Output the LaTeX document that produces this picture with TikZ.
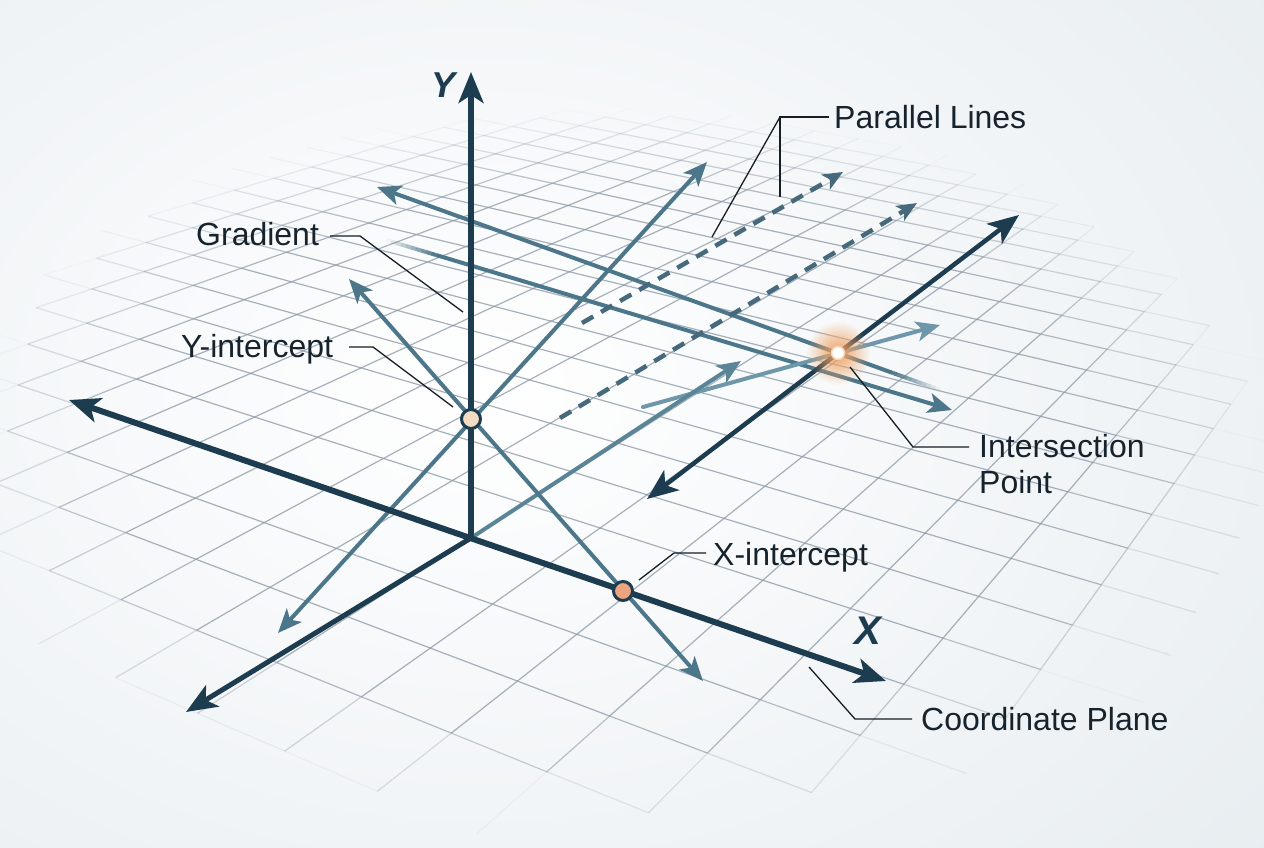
\documentclass[tikz,border=0pt]{standalone}
\usepackage{fontspec}
\setmainfont{Liberation Sans}
\usetikzlibrary{arrows.meta,fadings,calc}

\definecolor{bgout}{HTML}{E5EBEF}
\definecolor{axisdark}{HTML}{1E3C4F}
\definecolor{linemed}{HTML}{4C7689}
\definecolor{linemid}{HTML}{5A8597}
\definecolor{linelight}{HTML}{6E98AA}
\definecolor{dashcol}{HTML}{46697B}
\definecolor{gridcol}{HTML}{8A97A4}
\definecolor{txt}{HTML}{16232D}
\definecolor{leadcol}{HTML}{151E25}
\definecolor{ydot}{HTML}{F3DCC4}
\definecolor{xdot}{HTML}{EDA57F}
\definecolor{glowcol}{HTML}{F0A060}

\tikzfading[name=glowfade, inner color=transparent!0, outer color=transparent!100]

% perspective grid parameters
\def\Ox{471}\def\Oy{538}
\def\VAx{-2600}\def\VAy{-500}
\def\VBx{1700}\def\VBy{-250}
\def\ga{-0.0247}\def\gb{-0.0455}

\newcommand\gcalc[2]{%
  \pgfmathsetmacro\gw{1+(\ga)*(#1)+(\gb)*(#2)}%
  \pgfmathsetmacro\gx{(\Ox+(\ga)*(#1)*(\VAx)+(\gb)*(#2)*(\VBx))/\gw}%
  \pgfmathsetmacro\gy{(\Oy+(\ga)*(#1)*(\VAy)+(\gb)*(#2)*(\VBy))/\gw}%
}
\newcommand\gfade[4]{%
  \pgfmathsetmacro\gdx{((#1+#3)/2-610)/650}%
  \pgfmathsetmacro\gmy{(#2+#4)/2}%
  \pgfmathsetmacro\gdy{(\gmy-445)/(\gmy<445 ? 335 : 372)}%
  \pgfmathsetmacro\gop{0.75*min(1,max(0,2.2*(1-\gdx*\gdx-\gdy*\gdy)))}%
}

\tikzset{
  gridline/.style={draw=gridcol, line width=1.2pt},
  axisline/.style={draw=axisdark, line width=5.5pt},
  medline/.style={draw=linemed, line width=4pt},
  dashline/.style={draw=dashcol, line width=4.5pt, dash pattern=on 13pt off 9pt},
  bigend/.style={-{Stealth[length=31pt,width=25pt,inset=8pt]}},
  bigboth/.style={{Stealth[length=31pt,width=25pt,inset=8pt]}-{Stealth[length=31pt,width=25pt,inset=8pt]}},
  medend/.style={-{Stealth[length=24pt,width=20pt,inset=6pt]}},
  medboth/.style={{Stealth[length=24pt,width=20pt,inset=6pt]}-{Stealth[length=24pt,width=20pt,inset=6pt]}},
  smallend/.style={-{Stealth[length=20pt,width=17pt,inset=5pt]}},
  lbl/.style={font=\fontsize{32}{38}\selectfont, text=txt, inner sep=0pt, anchor=base west},
  axlbl/.style={text=axisdark, inner sep=0pt},
  leaderline/.style={draw=leadcol, line width=1.3pt},
  dotnode/.style={circle, draw=axisdark, line width=3pt, minimum size=19pt, inner sep=0pt},
}

\begin{document}
\begin{tikzpicture}[x=1pt,y=-1pt]
\useasboundingbox (0,0) rectangle (1264,848);
\begin{scope}
\clip (0,0) rectangle (1264,848);
\fill[bgout] (0,0) rectangle (1264,848);
\shade[inner color=white, outer color=bgout] (480,390) ellipse [x radius=1150pt, y radius=820pt];

% ---------- perspective grid: precompute points ----------
\foreach \u in {-24,...,10}{
  \foreach \v in {-30,...,7}{
    \gcalc{\u}{\v}%
    \expandafter\xdef\csname gX\u:\v\endcsname{\gx}%
    \expandafter\xdef\csname gY\u:\v\endcsname{\gy}%
  }
}
% family along u (v constant)
\foreach \v in {-30,...,7}{
  \foreach \u in {-24,...,9}{
    \pgfmathtruncatemacro\un{\u+1}%
    \expandafter\let\expandafter\xa\csname gX\u:\v\endcsname
    \expandafter\let\expandafter\ya\csname gY\u:\v\endcsname
    \expandafter\let\expandafter\xb\csname gX\un:\v\endcsname
    \expandafter\let\expandafter\yb\csname gY\un:\v\endcsname
    \gfade{\xa}{\ya}{\xb}{\yb}%
    \ifdim\gop pt>0.02pt
      \draw[gridline, draw opacity=\gop] (\xa,\ya) -- (\xb,\yb);
    \fi
  }
}
% family along v (u constant)
\foreach \u in {-24,...,10}{
  \foreach \v in {-30,...,6}{
    \pgfmathtruncatemacro\vn{\v+1}%
    \expandafter\let\expandafter\xa\csname gX\u:\v\endcsname
    \expandafter\let\expandafter\ya\csname gY\u:\v\endcsname
    \expandafter\let\expandafter\xb\csname gX\u:\vn\endcsname
    \expandafter\let\expandafter\yb\csname gY\u:\vn\endcsname
    \gfade{\xa}{\ya}{\xb}{\yb}%
    \ifdim\gop pt>0.02pt
      \draw[gridline, draw opacity=\gop] (\xa,\ya) -- (\xb,\yb);
    \fi
  }
}
\end{scope}

% ---------- key points ----------
\coordinate (O) at (471,538);
\coordinate (Ytip) at (471,72);
\coordinate (Xl) at (69,400);
\coordinate (Xr) at (886,681);
\coordinate (Ztip) at (186,712);
\coordinate (Gl) at (647,499);
\coordinate (Gr) at (1019,215);
\coordinate (I) at (838,353);
\coordinate (Al) at (278,633);
\coordinate (Ar) at (707,162);
\coordinate (Bl) at (349,279);
\coordinate (Br) at (703,681);
\coordinate (Ctip) at (377,187);
\coordinate (Cfs) at (893,373);
\coordinate (Cend) at (940,390);
\coordinate (Dstart) at (386,240);
\coordinate (Dfs) at (436,255);
\coordinate (Dtip) at (952,410);
\coordinate (Estart) at (643,407);
\coordinate (Etip) at (940,325);
\coordinate (Ftip) at (741,361);
\coordinate (P1s) at (582,323);
\coordinate (P1e) at (843,172);
\coordinate (P2s) at (560,418);
\coordinate (P2e) at (917,203);

% ---------- lines ----------
\draw[medline, medend] (Cfs) -- (Ctip);
\foreach \i in {0,...,9}{
  \pgfmathsetmacro\ta{\i/10}\pgfmathsetmacro\tb{(\i+1)/10}\pgfmathsetmacro\op{1-(\i+0.5)/10}
  \draw[medline, draw opacity=\op] ($(Cfs)!\ta!(Cend)$) -- ($(Cfs)!\tb!(Cend)$);
}
\draw[medline, medend] (Dfs) -- (Dtip);
\foreach \i in {0,...,9}{
  \pgfmathsetmacro\ta{\i/10}\pgfmathsetmacro\tb{(\i+1)/10}\pgfmathsetmacro\op{(\i+0.5)/10}
  \draw[medline, draw opacity=\op] ($(Dstart)!\ta!(Dfs)$) -- ($(Dstart)!\tb!(Dfs)$);
}
\draw[dashline, smallend] (P1s) -- (P1e);
\draw[dashline, smallend] (P2s) -- (P2e);
\draw[draw=linelight, line width=4pt, line cap=round, medend] (Estart) -- (Etip);
\draw[draw=linemid, line width=4pt, medend] (O) -- (Ftip);
\draw[medline, medboth] (Al) -- (Ar);
\draw[medline, medboth] (Bl) -- (Br);

% ---------- axes ----------
\draw[axisline, bigend] (O) -- (Ytip);
\draw[axisline, line width=6pt, bigboth] (Xl) -- (Xr);
\draw[axisline, line width=5pt, bigend] (O) -- (Ztip);
\draw[axisline, line width=4.5pt, bigboth] (Gl) -- (Gr);

% ---------- points ----------
\fill[glowcol, path fading=glowfade] (I) circle (32pt);
\node[circle, fill=white, draw=glowcol!45!white, line width=1.5pt, minimum size=13pt, inner sep=0pt] (ipt) at (I) {};
\node[dotnode, fill=ydot] (yint) at (471,419) {};
\node[dotnode, fill=xdot] (xint) at (623,591) {};

% ---------- axis labels ----------
\node[axlbl, font=\fontsize{36}{40}\selectfont\bfseries\itshape] (tY) at (444,85) {Y};
\node[axlbl, font=\fontsize{40}{44}\selectfont\bfseries\itshape] (tX) at (868,631) {X};

% ---------- labels ----------
\node[lbl] (tParallel) at (834,129) {Parallel Lines};
\node[lbl] (tGradient) at (196,245) {Gradient};
\node[lbl] (tYint) at (181,357) {Y-intercept};
\node[lbl] (tInter) at (979,457) {Intersection};
\node[lbl] (tPoint) at (979,493) {Point};
\node[lbl] (tXint) at (713,565) {X-intercept};
\node[lbl] (tCoord) at (921,730) {Coordinate Plane};

% ---------- leaders ----------
\coordinate (pl1) at (829,117);
\coordinate (pl2) at (780,117);
\coordinate (pl3) at (780,197);
\coordinate (pl4) at (712,237);
\draw[leaderline] (pl1) -- (pl2) -- (pl3);
\draw[leaderline] (pl2) -- (pl4);
\coordinate (gl1) at (330,236);
\coordinate (gl2) at (360,236);
\coordinate (gl3) at (463,312);
\draw[leaderline] (gl1) -- (gl2) -- (gl3);
\coordinate (yl1) at (349,347);
\coordinate (yl2) at (373,347);
\coordinate (yl3) at (453,407);
\draw[leaderline] (yl1) -- (yl2) -- (yl3);
\coordinate (xl1) at (706,553);
\coordinate (xl2) at (674,553);
\coordinate (xl3) at (639,580);
\draw[leaderline] (xl1) -- (xl2) -- (xl3);
\coordinate (il1) at (969,447);
\coordinate (il2) at (913,447);
\coordinate (il3) at (850,367);
\draw[leaderline] (il1) -- (il2) -- (il3);
\coordinate (cl1) at (912,719);
\coordinate (cl2) at (855,719);
\coordinate (cl3) at (809,667);
\draw[leaderline] (cl1) -- (cl2) -- (cl3);
\end{tikzpicture}
\end{document}
